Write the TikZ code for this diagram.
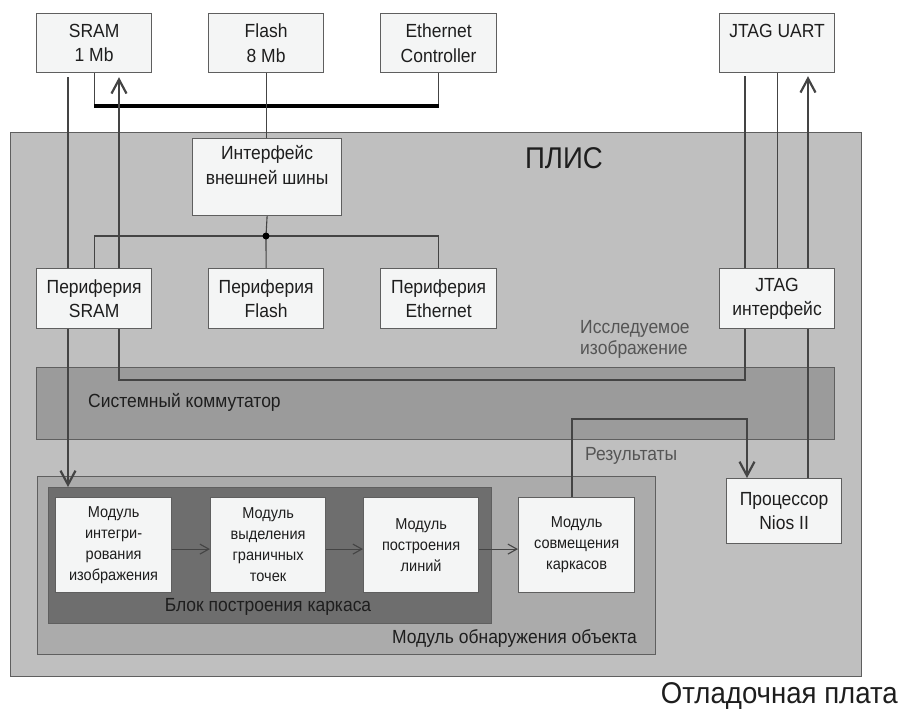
\documentclass[tikz,border=0pt]{standalone}
\usepackage{fontspec}
\setmainfont{Liberation Sans}[FakeStretch=0.92]
\usetikzlibrary{arrows.meta,calc}
\pgfdeclarelayer{back}
\pgfdeclarelayer{mid}
\pgfsetlayers{back,mid,main}
\definecolor{plisc}{RGB}{191,191,191}
\definecolor{commc}{RGB}{155,155,155}
\definecolor{obnc}{RGB}{171,171,171}
\definecolor{blkc}{RGB}{110,110,110}
\definecolor{boxc}{RGB}{244,245,245}
\definecolor{bordc}{RGB}{95,95,95}
\definecolor{linec}{RGB}{68,68,68}
\definecolor{txtc}{RGB}{30,30,30}
\definecolor{graytxt}{RGB}{85,85,85}
\begin{document}
\begin{tikzpicture}[x=1pt,y=-1pt,
  box/.style={draw=bordc, fill=boxc, line width=1.2pt, align=center, inner sep=0pt,
    anchor=north west, text=txtc, font=\fontsize{19}{24.5}\selectfont},
  modbox/.style={box, font=\fontsize{15.8}{21}\selectfont},
  cont/.style={draw=bordc, line width=1.2pt, anchor=north west, inner sep=0pt},
  fat/.style={draw=linec, line width=2.2pt},
  thinln/.style={draw=linec, line width=1.1pt},
  bigtip/.style={-{Straight Barb[length=14pt,width=15pt]}},
  smalltip/.style={-{Straight Barb[length=9pt,width=10pt]}},
  lbl/.style={inner sep=0pt, text=txtc, font=\fontsize{19}{21}\selectfont}
]
\useasboundingbox (0,0) rectangle (899,709);

% containers
\begin{pgfonlayer}{back}
\node[cont, fill=plisc, minimum width=851pt, minimum height=544pt] (plis) at (10,132) {};
\node[cont, fill=commc, minimum width=798pt, minimum height=72pt] (comm) at (36,367) {};
\node[cont, fill=obnc, minimum width=618pt, minimum height=178pt] (obn) at (37,476) {};
\node[cont, fill=blkc, minimum width=443pt, minimum height=136pt] (blk) at (48,487) {};
\end{pgfonlayer}

% boxes
\node[box, minimum width=115pt, minimum height=59pt] (sram) at (36,13) {SRAM\\1 Mb};
\node[box, minimum width=115pt, minimum height=59pt] (flash) at (208,13) {Flash\\8 Mb};
\node[box, minimum width=116pt, minimum height=59pt] (eth) at (380,13) {Ethernet\\Controller};
\node[box, minimum width=115pt, minimum height=59pt] (uart) at (719,13) {JTAG UART\\~};
\node[box, minimum width=149pt, minimum height=77pt] (ifc) at (192,138) {Интерфейс\\внешней шины\\~};
\node[box, minimum width=115pt, minimum height=60pt] (psram) at (36,268) {Периферия\\SRAM};
\node[box, minimum width=115pt, minimum height=60pt] (pflash) at (208,268) {Периферия\\Flash};
\node[box, minimum width=116pt, minimum height=60pt] (peth) at (380,268) {Периферия\\Ethernet};
\node[box, minimum width=115pt, minimum height=60pt] (jtag) at (719,268) {JTAG\\интерфейс};
\node[box, minimum width=115pt, minimum height=65pt] (nios) at (726,478) {Процессор\\Nios II};
\node[modbox, minimum width=116pt, minimum height=95pt] (m1) at (55,497) {Модуль\\интегри-\\рования\\изображения};
\node[modbox, minimum width=115pt, minimum height=95pt] (m2) at (210,497) {Модуль\\выделения\\граничных\\точек};
\node[modbox, minimum width=115pt, minimum height=95pt] (m3) at (363,497) {Модуль\\построения\\линий};
\node[modbox, minimum width=116pt, minimum height=95pt] (m4) at (518,497) {Модуль\\совмещения\\каркасов};

% labels
\node[lbl, font=\fontsize{30}{32}\selectfont] (plisl) at (564,158) {ПЛИС};
\node[lbl, anchor=east, font=\fontsize{30}{32}\selectfont] (board) at (898,696) {Отладочная плата};
\node[lbl, anchor=west] (comml) at (88,402) {Системный коммутатор};
\node[lbl, anchor=west, align=left, text=graytxt] (img) at (580,339) {Исследуемое\\изображение};
\node[lbl, anchor=west, text=graytxt] (res) at (585,456) {Результаты};
\node[lbl] (blkl) at (268,607) {Блок построения каркаса};
\node[lbl, anchor=east] (obnl) at (637,638) {Модуль обнаружения объекта};

% helper coordinates
\coordinate (yb) at (0,106);
\coordinate (jn) at (266,236);
\coordinate (xa) at (68,0);
\coordinate (xb) at (119,0);
\coordinate (xj) at (745,0);
\coordinate (xr) at (747,0);
\coordinate (xn) at (808,0);
\coordinate (xm) at (572,0);
\coordinate (yc) at (0,380);
\coordinate (yr) at (0,419);

\begin{pgfonlayer}{mid}
% external bus
\draw[thinln] (sram.south) -- (sram.south |- yb);
\draw[thinln] (eth.south) -- (eth.south |- yb);
\draw[line width=3.5pt, black] (sram.south |- yb) -- (eth.south |- yb);
\draw[thinln] (flash.south) -- (flash.south |- ifc.north);
% internal bus
\draw[thinln] (ifc.south) -- (jn);
\draw[thinln] (psram.north) -- (psram.north |- jn) -- (peth.north |- jn) -- (peth.north);
\draw[thinln] (jn) -- (pflash.north);
\fill[black] (jn) circle (3.5pt);
% data paths
\draw[fat, bigtip, shorten <=4pt] (sram.south -| xa) -- (blk.north -| xa);
\draw[fat, bigtip, shorten >=4pt] (jtag.south -| xj) -- (xj |- yc) -- (xb |- yc) -- (sram.south -| xb);
\draw[fat, shorten <=3pt] (uart.south -| xj) -- (jtag.north -| xj);
\draw[thinln] (uart.south) -- (jtag.north);
\draw[fat, bigtip, shorten >=3pt] (nios.north -| xn) -- (uart.south -| xn);
\draw[fat, bigtip] (m4.north -| xm) -- (xm |- yr) -- (xr |- yr) -- (nios.north -| xr);
% module chain
\draw[thinln, smalltip] ([yshift=-4pt]m1.east) -- ([yshift=-4pt]m2.west);
\draw[thinln, smalltip] ([yshift=-4pt]m2.east) -- ([yshift=-4pt]m3.west);
\draw[thinln, smalltip] ([yshift=-4pt]m3.east) -- ([yshift=-4pt]m4.west);
\end{pgfonlayer}
\end{tikzpicture}
\end{document}
